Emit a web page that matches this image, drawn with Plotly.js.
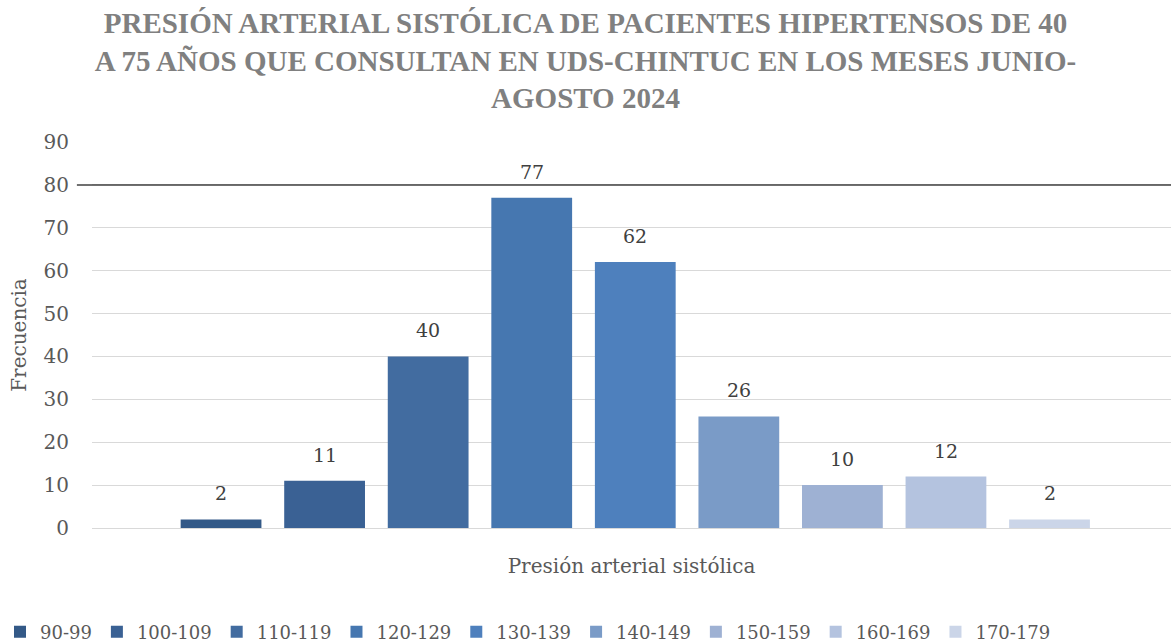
<!DOCTYPE html>
<html>
<head>
<meta charset="utf-8">
<script src="https://cdn.plot.ly/plotly-3.0.1.min.js"></script>
<style>html,body{margin:0;padding:0;background:#fff;}#chart{width:1171px;height:642px;}</style>
</head>
<body>
<div id="chart"></div>
<script>
const chartTitle = "PRESIÓN ARTERIAL SISTÓLICA DE PACIENTES HIPERTENSOS DE 40<br>A 75 AÑOS QUE CONSULTAN EN UDS-CHINTUC EN LOS MESES JUNIO-<br>AGOSTO 2024";
const xTitle = "Presión arterial sistólica";
const seriesNames = ["90-99", "100-109", "110-119", "120-129", "130-139", "140-149", "150-159", "160-169", "170-179"];
const seriesValues = [2, 11, 40, 77, 62, 26, 10, 12, 2];
const seriesColors = ["#335987", "#3a6194", "#426ca0", "#4677b0", "#4e80bd", "#7a9bc7", "#9eb1d3", "#b4c3df", "#cbd5e8"];
const yTitle = "Frecuencia";
const yRange = [0, 90];
const referenceLine = 80;

const serif = "DejaVu Serif";
const traces = seriesNames.map((name, i) => ({
  type: "bar",
  name: name,
  x: [i],
  y: [seriesValues[i]],
  width: 0.78,
  marker: {color: seriesColors[i]},
  hoverinfo: "name+y"
}));

const labelAnnotations = seriesValues.map((v, i) => ({
  x: i, y: v, xref: "x", yref: "y",
  text: String(v),
  showarrow: false,
  yanchor: "middle",
  yshift: 26,
  font: {family: serif, size: 19, color: "#404040"}
}));

const lineY = (referenceLine - yRange[0]) / (yRange[1] - yRange[0]);

const layout = {
  width: 1171,
  height: 642,
  paper_bgcolor: "#ffffff",
  plot_bgcolor: "#ffffff",
  margin: {l: 92, r: 0, t: 142, b: 114},
  barmode: "overlay",
  showlegend: true,
  title: {
    text: chartTitle,
    font: {family: "Liberation Serif", size: 29, color: "#808080", weight: "bold"},
    x: 0.5, xref: "container", xanchor: "center",
    y: 0.9486, yref: "container", yanchor: "top"
  },
  xaxis: {
    range: [-1.246, 9.173],
    automargin: false,
    showgrid: false,
    zeroline: false,
    showline: false,
    showticklabels: false,
    ticks: "",
    title: {text: xTitle, font: {family: serif, size: 20, color: "#595959"}, standoff: 30}
  },
  yaxis: {
    range: yRange,
    dtick: 10,
    automargin: false,
    showgrid: true,
    gridcolor: "#d9d9d9",
    gridwidth: 1,
    zeroline: true,
    zerolinecolor: "#d9d9d9",
    zerolinewidth: 1,
    showline: false,
    ticks: "",
    tickfont: {family: serif, size: 20, color: "#595959"},
    ticklabelstandoff: 22,
    title: {text: yTitle, font: {family: serif, size: 20, color: "#595959"}, standoff: 11}
  },
  legend: {
    orientation: "h",
    xref: "paper", x: 0.404, xanchor: "center",
    yref: "container", y: 0.0156, yanchor: "middle",
    font: {family: serif, size: 18, color: "#595959"},
    itemwidth: 30,
    traceorder: "normal"
  },
  annotations: labelAnnotations,
  shapes: [{
    type: "line",
    xref: "paper", yref: "paper",
    x0: -0.014, x1: 1,
    y0: lineY, y1: lineY,
    line: {color: "#404040", width: 1.5}
  }]
};

Plotly.newPlot("chart", traces, layout, {displayModeBar: false, staticPlot: true});
</script>
</body>
</html>
